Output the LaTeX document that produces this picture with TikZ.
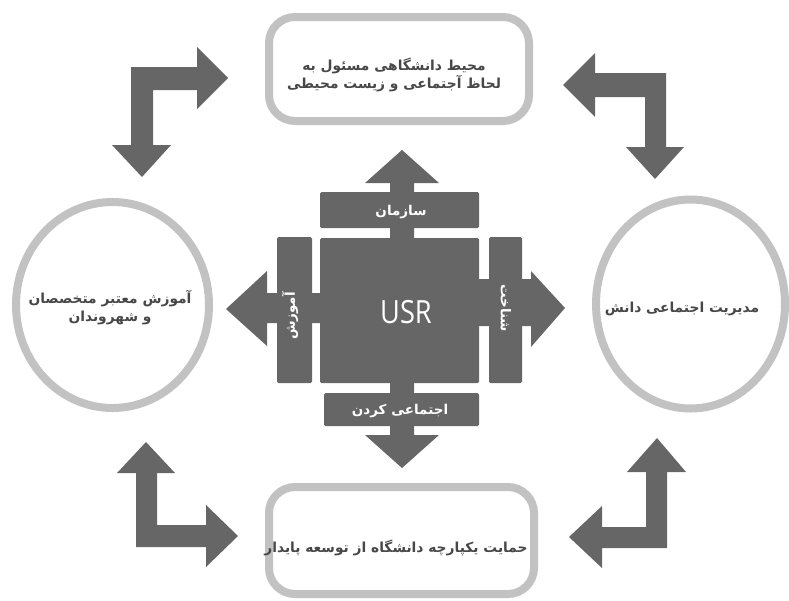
\documentclass[tikz,border=0pt]{standalone}
\usepackage{fontspec}
\usetikzlibrary{shapes.geometric}
\TeXXeTstate=1
\newfontfamily\arabicfont[Script=Arabic]{DejaVu Sans}
\newfontfamily\arabicbold[Script=Arabic]{DejaVu Sans Bold}
\newfontfamily\usrfont{Open Sans}
\definecolor{arr}{HTML}{666666}
\definecolor{ring}{HTML}{C2C2C2}
\definecolor{txt}{HTML}{474747}
\tikzset{
  ringbox/.style={draw=ring, line width=8pt, rectangle, rounded corners=26pt, fill=white, inner sep=0pt},
  ringcirc/.style={draw=ring, line width=8pt, ellipse, fill=white, inner sep=0pt},
  bigarrow/.style={fill=arr, draw=none},
  darkbar/.style={fill=arr, draw=none, rectangle, rounded corners=1.5pt, inner sep=0pt},
  fatxt/.style={font=\arabicbold\fontsize{13.8}{18}\selectfont, text=txt, align=center, inner sep=0pt},
  whitetxt/.style={font=\arabicbold\fontsize{13.5}{15}\selectfont, text=white, inner sep=0pt},
}
\begin{document}
\begin{tikzpicture}[x=1pt, y=-1pt]
\useasboundingbox (0,0) rectangle (789,600);
% outer shapes
\node[ringbox, minimum width=260pt, minimum height=104pt] (topbox) at (399,69) {};
\node[ringbox, minimum width=265pt, minimum height=107pt] (botbox) at (401.5,540.5) {};
\node[ringcirc, minimum width=193pt, minimum height=206pt] (leftc) at (112.5,305) {};
\node[ringcirc, minimum width=189pt, minimum height=209pt] (rightc) at (690.5,304) {};
% texts
\node[fatxt] (toptxt) at (394,75) {\beginR محیط دانشگاهی مسئول به\endR\\\beginR لحاظ آجتماعی و زیست محیطی\endR};
\node[fatxt] (lefttxt) at (110,308) {\beginR آموزش معتبر متخصصان\endR\\\beginR و شهروندان\endR};
\node[fatxt] (righttxt) at (682,309) {\beginR مدیریت اجتماعی دانش\endR};
\node[fatxt] (bottxt) at (396,548) {\beginR حمایت یکپارچه دانشگاه از توسعه پایدار\endR};
% corner arrows
\fill[bigarrow] (131,67) -- (197,67) -- (197,47) -- (228,78) -- (197,109) -- (197,90) -- (153,90) -- (153,145) -- (171,145) -- (142,177) -- (112,145) -- (131,145) -- cycle;
\fill[bigarrow] (666,73) -- (595,73) -- (595,53) -- (563,85) -- (595,117) -- (595,97) -- (645,97) -- (645,147) -- (626,147) -- (655,179) -- (684,147) -- (666,147) -- cycle;
\fill[bigarrow] (136,547) -- (136,473) -- (117,473) -- (146,442) -- (175,473) -- (157,473) -- (157,525) -- (206,525) -- (206,505) -- (238,536) -- (206,567) -- (206,547) -- cycle;
\fill[bigarrow] (667,548) -- (667,472) -- (686,472) -- (657,438) -- (627,472) -- (646,472) -- (646,527) -- (602,527) -- (602,506) -- (569,537) -- (602,568) -- (602,548) -- cycle;
% central cross arrows
\fill[bigarrow] (390,183) -- (365,183) -- (402,150) -- (439,183) -- (414,183) -- (414,435) -- (439,435) -- (402,468) -- (365,435) -- (390,435) -- cycle;
\fill[bigarrow] (403,293) -- (267,293) -- (267,271) -- (226,309) -- (267,346) -- (267,323) -- (403,323) -- cycle;
\fill[bigarrow] (403,279) -- (531,279) -- (531,271) -- (565,308) -- (531,347) -- (531,326) -- (403,326) -- cycle;
% bars and square
\node[darkbar, minimum width=159pt, minimum height=36pt] (topbar) at (399.5,210) {};
\node[darkbar, minimum width=159pt, minimum height=145pt] (core) at (399.5,310.5) {};
\node[darkbar, minimum width=155pt, minimum height=33pt] (botbar) at (401.5,409.5) {};
\node[darkbar, minimum width=35pt, minimum height=146pt] (leftbar) at (294.5,310) {};
\node[darkbar, minimum width=33pt, minimum height=146pt] (rightbar) at (505.5,310) {};
% bar texts
\node[whitetxt] (orgtxt) at (401,212) {\beginR سازمان\endR};
\node[whitetxt] (soctxt) at (400,411) {\beginR اجتماعی کردن\endR};
\node[whitetxt, rotate=90] (edutxt) at (290,316) {\beginR آموزش\endR};
\node[whitetxt, rotate=-90] (knowtxt) at (506,308) {\beginR شناخت\endR};
\node[font=\usrfont\fontsize{32}{36}\selectfont, text=white, inner sep=0pt, xscale=0.85, transform shape] (usr) at (406,312) {USR};
\end{tikzpicture}
\end{document}
